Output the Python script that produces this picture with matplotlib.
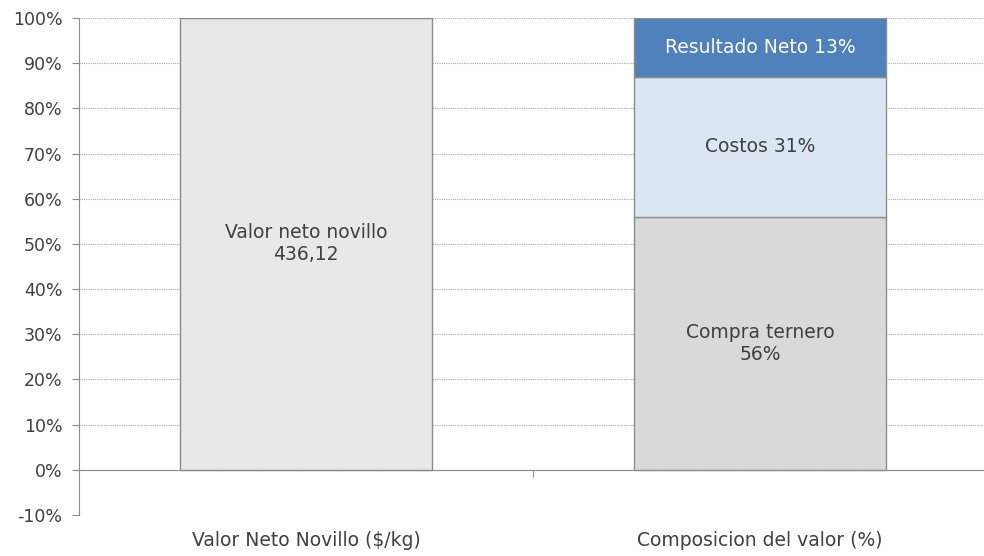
import matplotlib.pyplot as plt
import matplotlib.transforms as mtransforms
from matplotlib.ticker import PercentFormatter

plt.rcParams['font.family'] = ['DejaVu Sans']
plt.rcParams['axes.unicode_minus'] = False

categories = ["Valor Neto Novillo ($/kg)", "Composicion del valor (%)"]
valor_neto = 100
valor_label = "Valor neto novillo\n436,12"
segment_names = ["Compra ternero", "Costos", "Resultado Neto"]
segment_values = [56, 31, 13]
segment_labels = ["Compra ternero\n56%", "Costos 31%", "Resultado Neto 13%"]
segment_colors = ["#D9D9D9", "#DCE6F2", "#4F81BD"]
segment_text = ["#404040", "#404040", "white"]

fig = plt.figure(figsize=(9.84, 5.56), dpi=100)
ax = fig.add_axes([79 / 984, 1 - 515 / 556, (987 - 79) / 984, (515 - 18) / 556])

width = 0.555
edge = "#8C8C8C"
fs = 12.5
fs_lab = 13.5

ax.bar(0, valor_neto, width=width, color="#E8E8E8", edgecolor=edge, linewidth=1, zorder=3)
ax.text(0, valor_neto / 2, valor_label, ha="center", va="center", fontsize=fs_lab,
        color="#404040", zorder=4, linespacing=1.2)

bottom = 0
for val, col, lab, tc in zip(segment_values, segment_colors, segment_labels, segment_text):
    ax.bar(1, val, width=width, bottom=bottom, color=col, edgecolor=edge, linewidth=1, zorder=3)
    ax.text(1, bottom + val / 2, lab, ha="center", va="center", fontsize=fs_lab,
            color=tc, zorder=4, linespacing=1.2)
    bottom += val

ax.set_xlim(-0.5, 1.5)
ax.set_ylim(-10, 100)
ax.set_yticks(range(-10, 101, 10))
ax.yaxis.set_major_formatter(PercentFormatter(decimals=0))
ax.grid(axis="y", linestyle=(0, (1, 1)), color="#A6A6A6", linewidth=0.8, zorder=0)

for s in ["top", "right"]:
    ax.spines[s].set_visible(False)
ax.spines["left"].set_color(edge)
ax.spines["bottom"].set_position(("data", 0))
ax.spines["bottom"].set_color(edge)
ax.spines["bottom"].set_zorder(5)

ax.set_xticks([0.5])
ax.set_xticklabels([""])
ax.tick_params(axis="x", length=5, color=edge, direction="out")
ax.tick_params(axis="y", length=5, pad=7, color=edge, labelsize=fs, labelcolor="#404040")

trans = mtransforms.blended_transform_factory(ax.transData, fig.transFigure)
for i, c in enumerate(categories):
    ax.text(i, 1 - 541 / 556, c, transform=trans, ha="center", va="center",
            fontsize=fs_lab, color="#404040")

fig.savefig("out.png", dpi=100)
